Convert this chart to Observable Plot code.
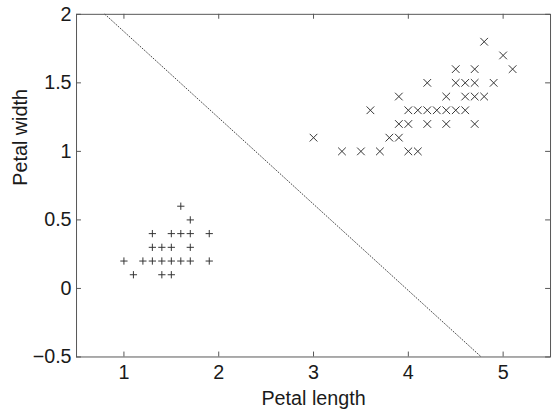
<!DOCTYPE html>
<html><head><meta charset="utf-8">
<script src="https://cdn.jsdelivr.net/npm/d3@7"></script>
<script src="https://cdn.jsdelivr.net/npm/@observablehq/plot@0.6"></script>
<style>
html,body{margin:0;padding:0;overflow:hidden;background:#fff;}
#chart svg{display:block;}
</style></head><body><div id="chart"></div>
<script>
// Setosa (+)
const setosaLength = [1.6,1.7,1.3,1.5,1.6,1.7,1.9,1.3,1.4,1.5,1.7,1.0,1.2,1.3,1.4,1.5,1.6,1.7,1.9,1.1,1.4,1.5];
const setosaWidth  = [0.6,0.5,0.4,0.4,0.4,0.4,0.4,0.3,0.3,0.3,0.3,0.2,0.2,0.2,0.2,0.2,0.2,0.2,0.2,0.1,0.1,0.1];
// Versicolor (x)
const versicolorLength = [4.8,5.0,4.5,4.7,5.1, 4.2,4.5,4.6,4.7,4.9, 3.9,4.4,4.6,4.7,4.8, 3.6,4.0,4.1,4.2,4.3,4.4,4.5,4.6, 3.9,4.0,4.2,4.4,4.7, 3.0,3.8,3.9, 3.3,3.5,3.7,4.0,4.1];
const versicolorWidth  = [1.8,1.7,1.6,1.6,1.6, 1.5,1.5,1.5,1.5,1.5, 1.4,1.4,1.4,1.4,1.4, 1.3,1.3,1.3,1.3,1.3,1.3,1.3,1.3, 1.2,1.2,1.2,1.2,1.2, 1.1,1.1,1.1, 1.0,1.0,1.0,1.0,1.0];
// Decision boundary (dotted)
const boundaryLength = [0.8, 4.77];
const boundaryWidth  = [2.0, -0.5];
// Axes
const xTicks = [1,2,3,4,5];
const yTicks = [-0.5,0,0.5,1,1.5,2];
const xDomain = [0.5,5.5];
const yDomain = [-0.5,2];
const xLabel = "Petal length";
const yLabel = "Petal width";

const W = 560, H = 416, mt = 14, mb = 55, ml = 77, mr = 3;
const pw = W - ml - mr, ph = H - mt - mb;
const setosa = setosaLength.map((x, i) => ({x, y: setosaWidth[i]}));
const versicolor = versicolorLength.map((x, i) => ({x, y: versicolorWidth[i]}));
const boundary = boundaryLength.map((x, i) => ({x, y: boundaryWidth[i]}));
const fmt = d => String(d).replace("-", "\u2212");
const FS = 20;

const plot = Plot.plot({
  width: W, height: H,
  marginTop: mt, marginBottom: mb, marginLeft: ml, marginRight: mr,
  x: {domain: xDomain},
  y: {domain: yDomain},
  style: {fontFamily: "'Liberation Sans', Arial, sans-serif", fontSize: FS + "px", color: "#1a1a1a", background: "#fff"},
  marks: [
    Plot.axisX(xTicks, {tickSize: 0, tickPadding: 8, tickFormat: fmt, label: null, fontSize: FS}),
    Plot.axisY(yTicks, {tickSize: 0, tickPadding: 5, tickFormat: fmt, label: null, fontSize: FS}),
    Plot.ruleX(xTicks, {x: d => d, insetTop: ph - 5, stroke: "#555"}),
    Plot.ruleX(xTicks, {x: d => d, insetBottom: ph - 5, stroke: "#555"}),
    Plot.ruleY(yTicks, {y: d => d, insetRight: pw - 5, stroke: "#555"}),
    Plot.ruleY(yTicks, {y: d => d, insetLeft: pw - 5, stroke: "#555"}),
    Plot.line(boundary, {x: "x", y: "y", stroke: "#444", strokeWidth: 1, strokeDasharray: "1,2"}),
    Plot.dot(setosa, {x: "x", y: "y", symbol: "plus", r: 2.5, stroke: "#333", strokeWidth: 1}),
    Plot.dot(versicolor, {x: "x", y: "y", symbol: "times", r: 3.6, stroke: "#333", strokeWidth: 1}),
    Plot.frame({stroke: "#555"}),
    Plot.text([xLabel], {frameAnchor: "bottom", dy: 42, lineAnchor: "middle", fontSize: FS}),
    Plot.text([yLabel], {frameAnchor: "left", dx: -57, rotate: -90, lineAnchor: "middle", fontSize: FS})
  ]
});
document.getElementById("chart").appendChild(plot);
</script></body></html>
